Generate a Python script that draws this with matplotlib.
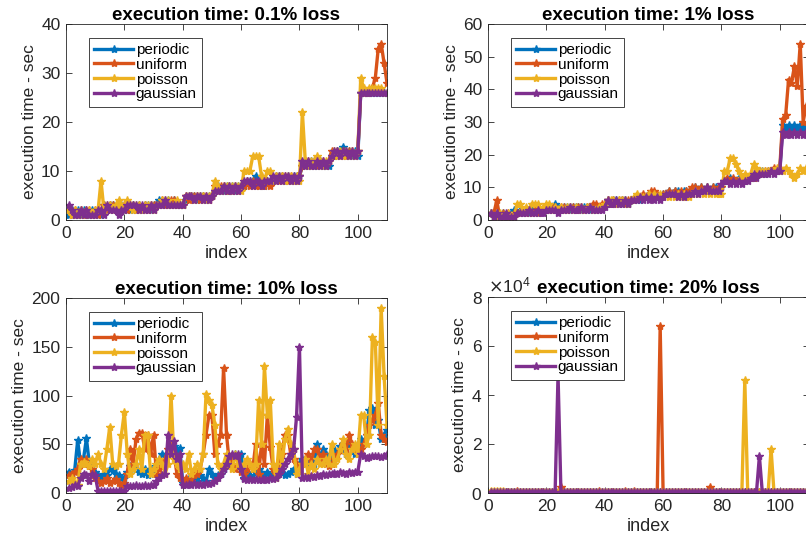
import numpy as np
import matplotlib
matplotlib.use("Agg")
import matplotlib.pyplot as plt
from matplotlib.ticker import ScalarFormatter

plt.rcParams["font.family"] = ["Liberation Sans", "DejaVu Sans"]

SERIES = ["periodic", "uniform", "poisson", "gaussian"]
COLORS = ["#0072BD", "#D95319", "#EDB120", "#7E2F8E"]
TITLES = ["execution time: 0.1% loss", "execution time: 1% loss",
          "execution time: 10% loss", "execution time: 20% loss"]
YTICKS = [[0, 10, 20, 30, 40], [0, 10, 20, 30, 40, 50, 60],
          [0, 50, 100, 150, 200], [0, 20000, 40000, 60000, 80000]]
INDEX = list(range(1, 111))

# ---- 0.1% loss ----
a_periodic = [1, 2, 1, 2, 1, 2, 1, 1, 2, 1,
              2, 1, 3, 2, 3, 3, 2, 2, 3, 2,
              3, 2, 3, 2, 3, 2, 3, 3, 2, 3,
              3, 4, 3, 3, 4, 3, 4, 3, 3, 3,
              4, 5, 5, 5, 4, 5, 5, 4, 5, 5,
              6, 7, 6, 6, 7, 6, 7, 6, 7, 7,
              7, 8, 8, 8, 9, 7, 8, 7, 8, 8,
              8, 9, 9, 9, 8, 9, 8, 9, 9, 9,
              11, 12, 11, 12, 11, 11, 12, 11, 11, 11,
              13, 13, 14, 14, 15, 13, 14, 13, 14, 13,
              26, 26, 26, 26, 26, 26, 26, 26, 26, 26]
a_uniform = [2, 1, 2, 1, 2, 1, 2, 2, 1, 2,
             1, 2, 3, 2, 3, 3, 2, 3, 2, 3,
             2, 3, 3, 2, 3, 2, 3, 2, 3, 3,
             3, 3, 4, 3, 3, 4, 4, 3, 3, 3,
             5, 4, 5, 5, 5, 4, 5, 5, 4, 5,
             7, 6, 7, 7, 6, 7, 6, 7, 6, 7,
             7, 8, 7, 8, 7, 7, 8, 7, 8, 7,
             8, 9, 8, 9, 9, 8, 9, 8, 9, 9,
             11, 12, 12, 11, 12, 11, 12, 12, 11, 12,
             14, 13, 14, 13, 14, 13, 14, 14, 13, 14,
             26, 26, 26, 26, 27, 29, 35, 36, 32, 28]
a_poisson = [2, 1, 2, 1, 2, 1, 1, 2, 1, 2,
             2, 8, 2, 3, 3, 2, 3, 4, 3, 3,
             4, 3, 2, 3, 3, 2, 3, 3, 3, 2,
             3, 3, 4, 4, 4, 3, 3, 4, 3, 3,
             5, 5, 5, 4, 5, 5, 5, 4, 5, 5,
             8, 7, 6, 7, 7, 6, 7, 7, 7, 6,
             10, 10, 10, 13, 13, 13, 9, 8, 10, 10,
             8, 9, 9, 9, 8, 9, 9, 8, 9, 8,
             22, 12, 11, 12, 12, 13, 12, 11, 12, 12,
             13, 14, 13, 14, 13, 14, 13, 14, 13, 14,
             29, 27, 26, 27, 27, 27, 27, 27, 26, 26]
a_gaussian = [3, 2, 1, 1, 2, 1, 2, 1, 1, 1,
              2, 2, 1, 3, 2, 2, 2, 1, 2, 2,
              3, 3, 3, 3, 2, 3, 2, 2, 3, 2,
              3, 3, 3, 4, 3, 3, 3, 3, 3, 3,
              5, 5, 5, 4, 5, 5, 4, 5, 4, 5,
              6, 6, 6, 7, 6, 7, 6, 7, 6, 7,
              8, 8, 8, 7, 8, 8, 7, 8, 8, 8,
              9, 8, 9, 8, 9, 9, 8, 9, 8, 9,
              12, 11, 12, 11, 11, 12, 11, 12, 11, 12,
              13, 14, 14, 13, 14, 14, 13, 14, 13, 14,
              26, 26, 26, 26, 26, 26, 26, 26, 26, 26]

# ---- 1% loss ----
b_periodic = [2, 1, 2, 1, 2, 1, 1, 2, 3, 2,
              3, 2, 3, 2, 3, 3, 2, 3, 3, 3,
              4, 4, 5, 4, 3, 4, 4, 3, 4, 4,
              4, 3, 4, 4, 3, 4, 3, 4, 4, 5,
              6, 5, 6, 6, 5, 6, 6, 5, 6, 6,
              7, 6, 7, 7, 8, 7, 8, 7, 7, 8,
              8, 9, 8, 9, 9, 8, 9, 9, 8, 9,
              10, 9, 10, 9, 10, 9, 10, 10, 9, 10,
              12, 12, 13, 12, 12, 13, 12, 12, 13, 13,
              13, 14, 15, 15, 14, 15, 15, 15, 15, 15,
              29, 28, 29, 28, 29, 28, 29, 28, 29, 28]
b_uniform = [2, 2, 6, 1, 2, 1, 2, 1, 2, 2,
             2, 3, 2, 3, 2, 3, 2, 3, 3, 3,
             3, 4, 4, 3, 4, 4, 3, 4, 4, 3,
             4, 4, 3, 4, 4, 5, 5, 4, 5, 5,
             6, 5, 6, 5, 6, 6, 5, 6, 6, 6,
             7, 7, 8, 7, 8, 9, 9, 8, 7, 8,
             8, 9, 8, 9, 8, 9, 8, 9, 9, 10,
             10, 9, 10, 9, 10, 9, 10, 9, 10, 10,
             12, 13, 12, 13, 12, 12, 13, 12, 13, 13,
             13, 14, 15, 14, 15, 15, 15, 16, 15, 16,
             31, 32, 43, 42, 47, 41, 54, 30, 35, 33]
b_poisson = [2, 1, 1, 2, 1, 1, 2, 1, 1, 5,
             5, 3, 4, 3, 5, 5, 5, 3, 4, 5,
             5, 3, 4, 3, 4, 3, 4, 4, 3, 4,
             3, 4, 3, 4, 4, 3, 3, 4, 4, 5,
             6, 6, 6, 5, 6, 6, 6, 5, 6, 7,
             8, 7, 7, 7, 8, 7, 8, 7, 8, 7,
             8, 7, 8, 7, 8, 7, 8, 7, 7, 8,
             9, 8, 9, 8, 9, 8, 9, 8, 8, 8,
             15, 15, 19, 19, 17, 15, 13, 14, 13, 14,
             17, 16, 15, 15, 15, 15, 15, 15, 16, 15,
             15, 16, 15, 14, 13, 14, 16, 15, 16, 15]
b_gaussian = [2, 1, 2, 1, 1, 2, 1, 1, 1, 2,
              2, 2, 2, 3, 2, 2, 3, 2, 2, 3,
              3, 3, 3, 2, 3, 3, 3, 4, 3, 3,
              3, 4, 3, 3, 4, 3, 3, 3, 3, 4,
              6, 5, 5, 6, 5, 5, 6, 5, 6, 6,
              6, 7, 6, 7, 6, 7, 6, 7, 6, 7,
              8, 8, 8, 8, 7, 8, 7, 8, 8, 8,
              9, 8, 9, 9, 10, 9, 9, 9, 9, 11,
              12, 12, 11, 12, 11, 12, 11, 12, 12, 13,
              14, 13, 14, 14, 14, 14, 15, 14, 15, 15,
              27, 26, 27, 26, 27, 26, 27, 26, 27, 27]

# ---- 10% loss ----
c_periodic = [22, 20, 24, 54, 30, 35, 56, 30, 28, 22,
              18, 15, 20, 18, 25, 24, 20, 18, 15, 15,
              22, 28, 25, 30, 22, 20, 25, 18, 25, 20,
              28, 35, 40, 38, 40, 45, 48, 44, 46, 10,
              12, 15, 10, 14, 12, 18, 15, 12, 25, 20,
              15, 18, 20, 25, 30, 35, 38, 40, 38, 40,
              15, 20, 18, 15, 22, 25, 20, 18, 22, 15,
              20, 18, 22, 25, 18, 20, 22, 25, 20, 30,
              35, 30, 32, 28, 30, 50, 35, 45, 40, 35,
              40, 45, 42, 48, 45, 40, 50, 45, 40, 50,
              55, 50, 60, 85, 87, 70, 75, 55, 60, 65]
c_uniform = [18, 20, 22, 25, 35, 30, 35, 28, 25, 15,
             12, 10, 12, 15, 10, 12, 14, 10, 8, 10,
             20, 45, 30, 55, 62, 62, 45, 60, 40, 60,
             20, 25, 30, 35, 45, 50, 40, 20, 15, 12,
             15, 10, 12, 18, 20, 25, 40, 60, 80, 80,
             40, 50, 60, 128, 60, 30, 35, 25, 28, 22,
             20, 25, 30, 25, 50, 20, 50, 30, 80, 47,
             25, 20, 30, 40, 60, 60, 40, 35, 30, 25,
             30, 35, 40, 30, 45, 45, 35, 40, 30, 28,
             30, 35, 40, 45, 50, 45, 60, 50, 45, 40,
             45, 50, 60, 70, 75, 80, 92, 60, 55, 52]
c_poisson = [12, 15, 10, 8, 30, 32, 30, 28, 35, 30,
             40, 30, 25, 45, 68, 30, 28, 30, 60, 83,
             40, 20, 25, 30, 45, 25, 60, 60, 20, 25,
             30, 35, 30, 20, 30, 100, 35, 30, 25, 30,
             25, 40, 20, 25, 30, 25, 40, 102, 95, 90,
             70, 30, 25, 30, 40, 30, 25, 40, 30, 25,
             30, 35, 30, 25, 30, 95, 50, 130, 80, 95,
             30, 15, 50, 30, 55, 66, 50, 45, 20, 25,
             30, 35, 20, 30, 25, 35, 30, 30, 35, 30,
             50, 30, 35, 45, 55, 40, 35, 45, 50, 40,
             80, 80, 50, 60, 160, 155, 70, 190, 120, 70]
c_gaussian = [5, 6, 8, 7, 15, 20, 18, 12, 20, 18,
              2, 2, 2, 2, 2, 2, 2, 2, 2, 2,
              7, 7, 7, 8, 7, 7, 8, 7, 8, 8,
              12, 15, 18, 20, 60, 40, 53, 35, 40, 8,
              8, 9, 8, 10, 8, 9, 8, 10, 9, 10,
              12, 15, 20, 25, 30, 38, 40, 38, 40, 25,
              14, 13, 14, 13, 14, 13, 13, 14, 13, 15,
              14, 15, 20, 25, 30, 35, 40, 45, 78, 150,
              15, 16, 15, 17, 16, 18, 17, 20, 18, 19,
              20, 21, 20, 22, 21, 20, 22, 21, 22, 22,
              40, 38, 36, 37, 38, 38, 38, 37, 38, 40]

# ---- 20% loss ----
d_periodic = [400, 300, 500, 350, 300, 450, 300, 250, 400, 350,
              300, 250, 400, 350, 300, 450, 350, 300, 400, 350,
              300, 400, 350, 300, 450, 400, 350, 300, 400, 350,
              450, 300, 350, 400, 300, 350, 450, 300, 400, 350,
              300, 350, 400, 300, 450, 350, 300, 400, 350, 300,
              400, 350, 300, 450, 350, 300, 400, 350, 300, 400,
              350, 300, 450, 400, 350, 300, 600, 350, 400, 300,
              350, 400, 300, 450, 350, 300, 400, 350, 300, 450,
              350, 300, 400, 350, 300, 450, 350, 300, 400, 350,
              300, 450, 350, 300, 400, 350, 300, 450, 350, 300,
              400, 350, 300, 450, 350, 300, 400, 350, 300, 400]
d_uniform = [500, 600, 400, 300, 350, 400, 300, 350, 400, 700,
             350, 300, 400, 350, 300, 400, 350, 300, 400, 350,
             300, 350, 400, 300, 2600, 300, 350, 400, 300, 350,
             400, 300, 350, 400, 300, 350, 400, 700, 350, 300,
             400, 350, 300, 400, 350, 300, 700, 350, 400, 700,
             300, 350, 400, 300, 350, 400, 300, 350, 68000, 350,
             300, 400, 350, 300, 400, 600, 350, 400, 300, 350,
             400, 300, 350, 400, 300, 2500, 350, 400, 300, 600,
             350, 300, 400, 350, 300, 400, 350, 300, 400, 350,
             300, 350, 400, 300, 350, 400, 300, 350, 400, 300,
             350, 400, 300, 350, 400, 300, 350, 400, 300, 350]
d_poisson = [900, 800, 700, 900, 800, 400, 300, 350, 400, 300,
             350, 400, 300, 350, 400, 300, 350, 400, 300, 350,
             400, 300, 350, 400, 300, 350, 400, 300, 350, 400,
             300, 350, 400, 300, 350, 400, 300, 350, 400, 300,
             350, 400, 300, 350, 400, 300, 350, 400, 300, 350,
             400, 300, 350, 400, 300, 350, 400, 300, 350, 400,
             300, 350, 400, 300, 350, 400, 300, 350, 400, 300,
             350, 400, 300, 350, 400, 300, 350, 400, 300, 350,
             400, 300, 350, 400, 300, 350, 400, 46000, 350, 400,
             300, 350, 400, 300, 350, 400, 18000, 350, 400, 300,
             350, 400, 300, 350, 400, 300, 350, 400, 300, 350]
d_gaussian = [300, 250, 300, 250, 300, 250, 300, 250, 300, 250,
              300, 250, 300, 250, 300, 250, 300, 250, 300, 250,
              300, 250, 300, 48000, 300, 250, 300, 250, 300, 250,
              300, 250, 300, 250, 300, 250, 300, 250, 300, 250,
              300, 250, 300, 250, 300, 250, 300, 250, 300, 250,
              300, 250, 300, 250, 300, 250, 300, 250, 300, 250,
              300, 250, 300, 250, 300, 250, 300, 250, 300, 250,
              300, 250, 300, 250, 300, 250, 300, 250, 300, 250,
              300, 250, 300, 250, 300, 250, 300, 250, 300, 250,
              300, 250, 15000, 250, 300, 250, 300, 250, 300, 250,
              300, 250, 300, 250, 300, 250, 300, 250, 300, 250]

PANELS = [
    [a_periodic, a_uniform, a_poisson, a_gaussian],
    [b_periodic, b_uniform, b_poisson, b_gaussian],
    [c_periodic, c_uniform, c_poisson, c_gaussian],
    [d_periodic, d_uniform, d_poisson, d_gaussian],
]

# axes boxes in pixels (left, top, right, bottom) on an 806x540 canvas; right column runs off the edge
W, H = 806, 540
BOXES = [(66, 24, 387, 220), (488, 24, 809, 220),
         (66, 298, 387, 493), (488, 297, 809, 493)]

AX_GRAY = "#262626"

fig = plt.figure(figsize=(W / 100, H / 100), dpi=100)
for i, (l, t, r, b) in enumerate(BOXES):
    ax = fig.add_axes([l / W, (H - b) / H, (r - l) / W, (b - t) / H])
    for name, col, vals in zip(SERIES, COLORS, PANELS[i]):
        ax.plot(INDEX, vals, color=col, lw=2.4, marker="*", ms=6, label=name)
    ax.set_xlim(0, 110)
    ax.set_xticks([0, 20, 40, 60, 80, 100])
    ax.set_ylim(YTICKS[i][0], YTICKS[i][-1])
    ax.set_yticks(YTICKS[i])
    if i == 3:
        fmt = ScalarFormatter(useMathText=True)
        fmt.set_powerlimits((0, 0))
        ax.yaxis.set_major_formatter(fmt)
        ax.yaxis.get_offset_text().set_fontsize(12.5)
        ax.yaxis.get_offset_text().set_color(AX_GRAY)
    ax.tick_params(direction="in", top=True, right=True, length=4, width=0.6,
                   labelsize=12.5, colors=AX_GRAY, pad=4)
    for sp in ax.spines.values():
        sp.set_color(AX_GRAY)
        sp.set_linewidth(0.6)
    ax.set_xlabel("index", fontsize=13, color=AX_GRAY, labelpad=3)
    ax.set_ylabel("execution time - sec", fontsize=12.5, color=AX_GRAY, labelpad=3)
    ax.set_title(TITLES[i], fontsize=13.5, fontweight="bold", pad=3)
    leg = ax.legend(loc="upper left", bbox_to_anchor=(0.072, 0.93), fontsize=11,
                    handlelength=2.5, handletextpad=0.2, labelspacing=0.05,
                    borderpad=0.35, borderaxespad=0, numpoints=1, fancybox=False,
                    framealpha=1, edgecolor=AX_GRAY)
    leg.get_frame().set_linewidth(0.6)

fig.savefig("out.png", dpi=100)
